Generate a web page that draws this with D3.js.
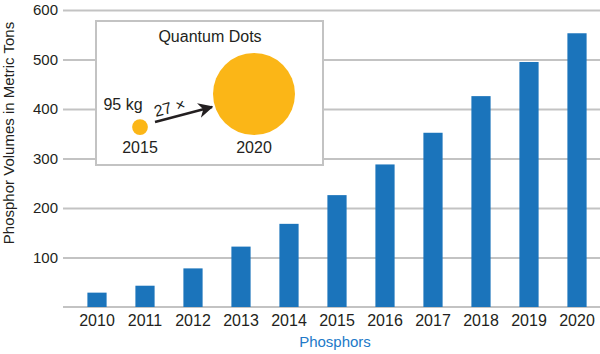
<!DOCTYPE html>
<html>
<head>
<meta charset="utf-8">
<script src="https://cdn.jsdelivr.net/npm/d3@7"></script>
<style>
  body { margin: 0; background: #fff; }
  svg text { font-family: "Liberation Sans", Arial, sans-serif; fill: #231f20; }
</style>
</head>
<body>
<div id="chart"></div>
<script>
const WIDTH = 600;
const HEIGHT = 354;

// phosphor volumes, metric tons
const years = ["2010", "2011", "2012", "2013", "2014", "2015", "2016", "2017", "2018", "2019", "2020"];
const volumes = [29, 43, 78, 122, 168, 226, 288, 352, 426, 495, 553];
const yTicks = [100, 200, 300, 400, 500, 600];

// quantum dots inset
const qdYears = ["2015", "2020"];
const qdRelative = [1, 27];
const qdBaseLabel = "95 kg";
const qdGrowthLabel = "27 ×";

const translate = function (x, y) {
  return "translate(" + x + "," + y + ")";
};

const svg = d3.select("#chart").append("svg")
  .attr("width", WIDTH)
  .attr("height", HEIGHT);

const xScale = d3.scaleBand()
  .domain(years)
  .range([73, 601])
  .paddingInner(0.6)
  .paddingOuter(0.3);

const yScale = d3.scaleLinear()
  .domain([0, 600])
  .range([307, 10]);

// gridlines + tick labels
const yAxis = d3.axisLeft(yScale)
  .tickValues(yTicks)
  .tickSize(-(WIDTH - 63))
  .tickPadding(5)
  .tickFormat(d3.format("d"));

const yG = svg.append("g")
  .attr("transform", translate(63, 0))
  .call(yAxis);
yG.select(".domain").remove();
yG.selectAll(".tick line").attr("stroke", "#c3c3c3").attr("stroke-width", 2);
yG.selectAll(".tick text")
  .attr("font-size", 15)
  .attr("fill", "#231f20")
  .style("font-family", "Liberation Sans, Arial, sans-serif");

// baseline
svg.append("line")
  .attr("x1", 63).attr("x2", WIDTH)
  .attr("y1", yScale(0)).attr("y2", yScale(0))
  .attr("stroke", "#c3c3c3").attr("stroke-width", 2);

// bars
svg.selectAll("rect.bar")
  .data(volumes)
  .enter()
  .append("rect")
  .attr("class", "bar")
  .attr("x", function (d, i) { return xScale(years[i]); })
  .attr("y", function (d) { return yScale(d); })
  .attr("width", xScale.bandwidth())
  .attr("height", function (d) { return yScale(0) - yScale(d); })
  .attr("fill", "#1b74bb");

// x labels
const xAxis = d3.axisBottom(xScale).tickSize(0).tickPadding(8);
const xG = svg.append("g")
  .attr("transform", translate(0, yScale(0)))
  .call(xAxis);
xG.select(".domain").remove();
xG.selectAll(".tick text")
  .attr("font-size", 16)
  .attr("fill", "#231f20")
  .style("font-family", "Liberation Sans, Arial, sans-serif");

// axis titles
svg.append("text")
  .attr("x", 335)
  .attr("y", 347)
  .attr("text-anchor", "middle")
  .attr("font-size", 15)
  .style("fill", "#2179c8")
  .text("Phosphors");

svg.append("text")
  .attr("transform", translate(14, 133) + " rotate(-90)")
  .attr("text-anchor", "middle")
  .attr("font-size", 15)
  .text("Phosphor Volumes in Metric Tons");

// inset box
const inset = svg.append("g");
inset.append("rect")
  .attr("x", 96).attr("y", 21)
  .attr("width", 227).attr("height", 144)
  .attr("fill", "#fff")
  .attr("stroke", "#c3c3c3")
  .attr("stroke-width", 2);

inset.append("text")
  .attr("x", 210).attr("y", 42)
  .attr("text-anchor", "middle")
  .attr("font-size", 16)
  .text("Quantum Dots");

const qdX = d3.scalePoint().domain(qdYears).range([140, 254]);
const qdR = d3.scaleSqrt().domain([0, 27]).range([0, 41]);
const qdBase = 135;

inset.selectAll("circle")
  .data(qdRelative)
  .enter()
  .append("circle")
  .attr("cx", function (d, i) { return qdX(qdYears[i]); })
  .attr("cy", function (d) { return qdBase - qdR(d); })
  .attr("r", function (d) { return qdR(d); })
  .attr("fill", "#fbb617");

inset.selectAll("text.qdyear")
  .data(qdYears)
  .enter()
  .append("text")
  .attr("class", "qdyear")
  .attr("x", function (d) { return qdX(d); })
  .attr("y", 153)
  .attr("text-anchor", "middle")
  .attr("font-size", 16)
  .text(function (d) { return d; });

inset.append("text")
  .attr("x", 123).attr("y", 110)
  .attr("text-anchor", "middle")
  .attr("font-size", 16)
  .text(qdBaseLabel);

// arrow
svg.append("defs").append("marker")
  .attr("id", "arrow")
  .attr("viewBox", "0 0 10 10")
  .attr("refX", 9).attr("refY", 5)
  .attr("markerWidth", 6).attr("markerHeight", 6)
  .attr("orient", "auto")
  .attr("markerUnits", "strokeWidth")
  .append("path")
  .attr("d", "M0,0 L10,5 L0,10 L3,5 Z")
  .attr("fill", "#231f20");

inset.append("line")
  .attr("x1", 155).attr("y1", 122)
  .attr("x2", 212).attr("y2", 107)
  .attr("stroke", "#231f20")
  .attr("stroke-width", 2.5)
  .attr("marker-end", "url(#arrow)");

inset.append("text")
  .attr("transform", translate(171, 113) + " rotate(-15)")
  .attr("text-anchor", "middle")
  .attr("font-size", 16)
  .text(qdGrowthLabel);
</script>
</body>
</html>
